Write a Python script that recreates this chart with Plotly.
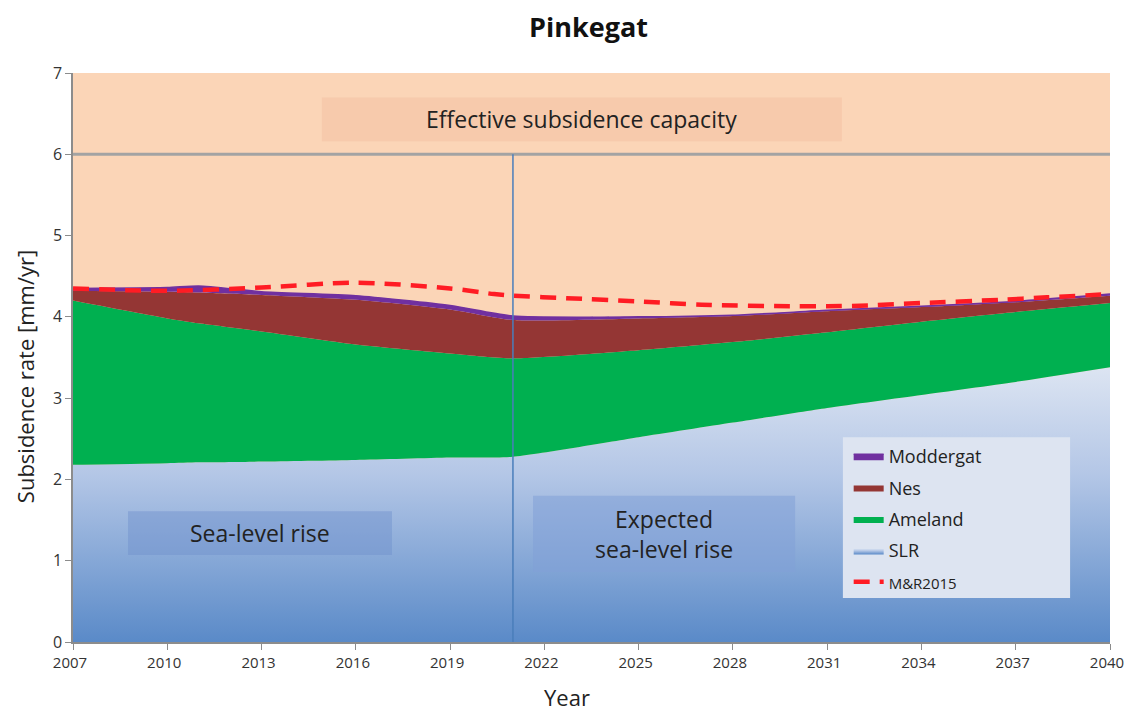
import plotly.graph_objects as go

years = [2007, 2010, 2011, 2013, 2016, 2019, 2021, 2025, 2028, 2031, 2034, 2037, 2040]

# top of each stacked band (cumulative values)
slr_top = [2.18, 2.20, 2.21, 2.22, 2.24, 2.27, 2.28, 2.52, 2.70, 2.88, 3.04, 3.20, 3.38]
ameland_top = [4.20, 3.98, 3.92, 3.82, 3.66, 3.55, 3.49, 3.59, 3.69, 3.81, 3.94, 4.06, 4.17]
nes_top = [4.32, 4.31, 4.30, 4.27, 4.21, 4.09, 3.96, 3.98, 4.01, 4.07, 4.12, 4.18, 4.26]
moddergat_top = [4.35, 4.36, 4.38, 4.31, 4.26, 4.14, 4.01, 4.00, 4.02, 4.08, 4.13, 4.19, 4.28]

mr_years = [2007, 2010, 2013, 2016, 2019, 2020.4, 2021, 2022.7, 2025, 2027, 2029.8, 2031, 2032.3, 2034, 2036.5, 2038, 2040]
mr2015 = [4.35, 4.32, 4.36, 4.42, 4.35, 4.28, 4.26, 4.23, 4.19, 4.15, 4.13, 4.13, 4.14, 4.17, 4.21, 4.24, 4.28]

capacity = 6.0
split_year = 2021
x_ticks = list(range(2007, 2041, 3))

FONT = "Open Sans"

fig = go.Figure()

fig.add_trace(go.Scatter(
    x=years, y=slr_top, name="SLR", mode="lines", fill="tozeroy",
    line=dict(width=0, color="#7fa3d6", shape="spline", smoothing=0.6),
    fillgradient=dict(type="vertical", start=0, stop=3.4,
                      colorscale=[[0, "#5a8ac8"], [0.6, "#b3c6e6"], [1, "#dde5f2"]]),
    legendrank=4, legendgroup="g4", hoverinfo="skip"))
fig.add_trace(go.Scatter(
    x=years, y=ameland_top, name="Ameland", mode="lines", fill="tonexty",
    fillcolor="#00b050", line=dict(width=0, color="#00b050", shape="spline", smoothing=0.6),
    legendrank=3, legendgroup="g3", hoverinfo="skip"))
fig.add_trace(go.Scatter(
    x=years, y=nes_top, name="Nes", mode="lines", fill="tonexty",
    fillcolor="#943634", line=dict(width=0, color="#943634", shape="spline", smoothing=0.6),
    legendrank=2, legendgroup="g2", hoverinfo="skip"))
fig.add_trace(go.Scatter(
    x=years, y=moddergat_top, name="Moddergat", mode="lines", fill="tonexty",
    fillcolor="#7030a0", line=dict(width=1.5, color="#7030a0", shape="spline", smoothing=0.6),
    legendrank=1, legendgroup="g1", hoverinfo="skip"))
fig.add_trace(go.Scatter(
    x=mr_years, y=mr2015, name="<span style='font-size:15px'>M&amp;R2015</span>", mode="lines",
    line=dict(width=4.5, color="#ff1c24", dash="16px,10px", shape="spline", smoothing=0.8),
    legendrank=5, legendgroup="g5", hoverinfo="skip"))

shapes = [
    # capacity line
    dict(type="line", xref="paper", x0=0, x1=1, yref="y", y0=capacity, y1=capacity,
         line=dict(color="#a3a3a3", width=3), layer="above"),
    # split line
    dict(type="line", xref="x", x0=split_year, x1=split_year, yref="y", y0=0, y1=capacity,
         line=dict(color="#4a7ebb", width=1.5), layer="above"),
    # text boxes
    dict(type="rect", xref="x", yref="y", x0=2014.92, x1=2031.47, y0=6.16, y1=6.70,
         fillcolor="rgba(236,170,140,0.25)", line=dict(width=0), layer="above"),
    dict(type="rect", xref="x", yref="y", x0=2008.75, x1=2017.15, y0=1.07, y1=1.61,
         fillcolor="rgba(110,145,205,0.45)", line=dict(width=0), layer="above"),
    dict(type="rect", xref="x", yref="y", x0=2021.64, x1=2029.98, y0=0.86, y1=1.80,
         fillcolor="rgba(130,160,215,0.55)", line=dict(width=0), layer="above"),
    # legend background
    dict(type="rect", xref="x", yref="y", x0=2031.5, x1=2038.73, y0=0.54, y1=2.52,
         fillcolor="#dde4f1", line=dict(width=0), layer="above"),
]

annotations = [
    dict(text="Effective subsidence capacity", x=(2014.92 + 2031.47) / 2, y=6.43, xref="x", yref="y",
         showarrow=False, font=dict(family=FONT, size=23, color="#222")),
    dict(text="Sea-level rise", x=(2008.75 + 2017.15) / 2, y=1.34, xref="x", yref="y",
         showarrow=False, font=dict(family=FONT, size=23, color="#222")),
    dict(text="Expected<br>sea-level rise", x=(2021.64 + 2029.98) / 2, y=1.33, xref="x", yref="y",
         showarrow=False, font=dict(family=FONT, size=23, color="#222")),
    # axis titles
    dict(text="Subsidence rate [mm/yr]", x=-0.046, y=0.466, xref="paper", yref="paper",
         xanchor="center", yanchor="middle", textangle=-90, showarrow=False,
         font=dict(family=FONT, size=22, color="#222")),
    dict(text="Year", x=0.476, y=-0.0967, xref="paper", yref="paper",
         xanchor="center", yanchor="middle", showarrow=False, borderpad=0,
         font=dict(family=FONT, size=22, color="#222")),
]

fig.update_layout(
    width=1125, height=705,
    margin=dict(l=65, r=23, t=65, b=71),
    paper_bgcolor="white",
    plot_bgcolor="#fbd5b7",
    title=dict(text="<b>Pinkegat</b>", x=0.516, xanchor="center", y=0.972, yanchor="middle",
               font=dict(family=FONT, size=27, color="#111")),
    font=dict(family=FONT, color="#333"),
    xaxis=dict(range=[2007, 2040], tickvals=x_ticks, ticktext=[str(t) for t in x_ticks],
               showgrid=False, zeroline=False, showline=True, linecolor="#8c8c8c", linewidth=1.5,
               ticks="outside", ticklen=6, tickcolor="#8c8c8c", automargin=False,
               ticklabeloverflow="allow", ticklabelshift=-3,
               tickfont=dict(size=15, color="#333")),
    yaxis=dict(range=[0, 7], dtick=1, showgrid=False, zeroline=False, showline=True,
               linecolor="#8c8c8c", linewidth=1.5, ticks="outside", ticklen=6, tickcolor="#8c8c8c",
               automargin=False, tickfont=dict(size=16, color="#333")),
    legend=dict(x=0.748, y=0.3585, xanchor="left", yanchor="top", bgcolor="rgba(0,0,0,0)",
                font=dict(family=FONT, size=18, color="#222"), tracegroupgap=5,
                itemwidth=30),
    shapes=shapes,
    annotations=annotations,
    showlegend=True,
)

fig.write_html("out.html")
